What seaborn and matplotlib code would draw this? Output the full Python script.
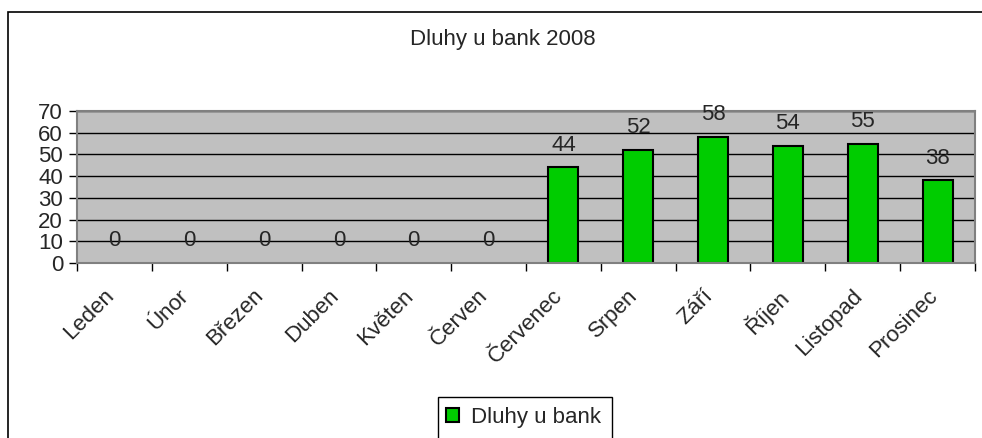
import numpy as np
import pandas as pd
import seaborn as sns
import matplotlib.pyplot as plt
from matplotlib.patches import Patch, Rectangle
from matplotlib.transforms import ScaledTranslation

# monthly data
months = ['Leden', 'Únor', 'Březen', 'Duben', 'Květen', 'Červen',
          'Červenec', 'Srpen', 'Září', 'Říjen', 'Listopad', 'Prosinec']
debts = [0, 0, 0, 0, 0, 0, 44, 52, 58, 54, 55, 38]
y_ticks = [0, 10, 20, 30, 40, 50, 60, 70]
title = 'Dluhy u bank 2008'
series_name = 'Dluhy u bank'

df = pd.DataFrame({'mesic': months, 'dluhy': debts})

sns.set_style('white')
plt.rcParams['font.family'] = ['Liberation Sans', 'DejaVu Sans']
fs = 16

fig = plt.figure(figsize=(9.82, 4.38), dpi=100)
ax = fig.add_axes([77 / 982, 1 - 263 / 438, (975 - 77) / 982, (263 - 111) / 438])

green = '#00cc00'
sns.barplot(data=df, x='mesic', y='dluhy', color=green, width=0.4,
            edgecolor='black', linewidth=1.5, saturation=1, ax=ax)
# zero bars are not drawn at all
for bar in ax.patches:
    if bar.get_height() == 0:
        bar.set_visible(False)

ax.set_facecolor('#c0c0c0')
ax.set_xlim(-0.5, len(months) - 0.5)
ax.set_ylim(0, 70)
ax.set_yticks(y_ticks)
ax.yaxis.grid(True, color='black', lw=1)
ax.set_axisbelow(True)
for s in ax.spines.values():
    s.set_color('#808080')
    s.set_linewidth(1.5)

ax.set_xlabel('')
ax.set_ylabel('')
ax.set_xticks(np.arange(-0.5, len(months), 1), minor=True)
ax.tick_params(axis='x', which='major', bottom=True, length=0, pad=16, labelsize=fs)
ax.tick_params(axis='x', which='minor', bottom=True, length=6, color='black', width=1)
ax.tick_params(axis='y', left=True, length=6, color='black', width=1, pad=4, labelsize=fs)
ax.set_xticks(range(len(months)))
ax.set_xticklabels(months, rotation=45, ha='right', rotation_mode='anchor')
shift = ScaledTranslation(-11 / 100, 0, fig.dpi_scale_trans)
for lab in ax.get_xticklabels():
    lab.set_transform(lab.get_transform() + shift)

# value labels
for i, v in enumerate(debts):
    ax.annotate(str(v), (i, v), xytext=(0, 16), textcoords='offset points',
                ha='center', va='center', fontsize=fs, annotation_clip=False)

fig.text(503 / 982, 1 - 40 / 438, title, ha='center', va='center', fontsize=fs)

# outer chart border (cropped at right and bottom)
fig.patches.append(Rectangle((8 / 982, -0.2), 1.2, 1.2 - 12 / 438, fill=False,
                             edgecolor='black', lw=1.2, transform=fig.transFigure))
# legend box (cropped at bottom)
fig.patches.append(Rectangle((438 / 982, -0.2), (612 - 438) / 982, 0.2 + (438 - 397) / 438,
                             fill=False, edgecolor='black', lw=1, transform=fig.transFigure))
handle = Patch(facecolor=green, edgecolor='black', linewidth=1.5, label=series_name)
fig.legend(handles=[handle], loc='center left', bbox_to_anchor=(435 / 982, 1 - 417 / 438),
           frameon=False, fontsize=fs, handlelength=0.6, handleheight=0.6,
           handletextpad=0.5, borderpad=0)

fig.savefig('out.png', dpi=100)
